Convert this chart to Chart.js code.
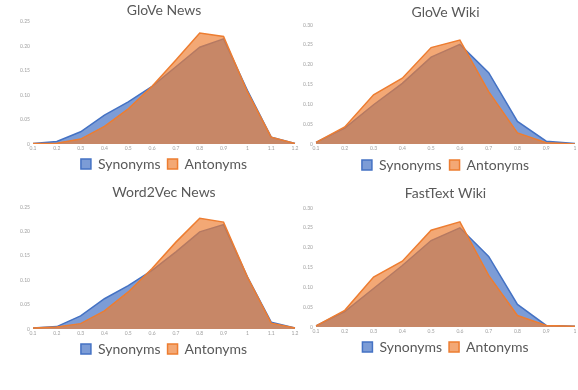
<!DOCTYPE html>
<html>
<head>
<meta charset="utf-8">
<script src="https://cdn.jsdelivr.net/npm/chart.js@4.4.0/dist/chart.umd.min.js"></script>
<style>
  html, body { margin: 0; padding: 0; background: #fff; overflow: hidden; }
  body { width: 578px; height: 390px; position: relative; }
  .box { position: absolute; }
</style>
</head>
<body>
<div class="box" id="b1" style="left:14px;top:0px;width:286px;height:181px;"><canvas id="c1"></canvas></div>
<div class="box" id="b2" style="left:297px;top:0px;width:281px;height:182px;"><canvas id="c2"></canvas></div>
<div class="box" id="b3" style="left:14px;top:180px;width:286px;height:186px;"><canvas id="c3"></canvas></div>
<div class="box" id="b4" style="left:297px;top:180px;width:281px;height:184px;"><canvas id="c4"></canvas></div>
<script>
// x categories (tick labels are tiny in the source, best guess)
const newsLabels = ['0.1', '0.2', '0.3', '0.4', '0.5', '0.6', '0.7', '0.8', '0.9', '1', '1.1', '1.2'];
const wikiLabels = ['0.1', '0.2', '0.3', '0.4', '0.5', '0.6', '0.7', '0.8', '0.9', '1'];

// GloVe News
const gloveNewsSyn = [0.001, 0.005, 0.025, 0.059, 0.086, 0.118, 0.158, 0.198, 0.215, 0.110, 0.014, 0.001];
const gloveNewsAnt = [0.001, 0.0015, 0.010, 0.036, 0.072, 0.118, 0.172, 0.227, 0.220, 0.107, 0.014, 0.001];

// GloVe Wiki
const gloveWikiSyn = [0.004, 0.040, 0.099, 0.153, 0.219, 0.251, 0.180, 0.057, 0.007, 0.001];
const gloveWikiAnt = [0.004, 0.043, 0.124, 0.166, 0.243, 0.262, 0.132, 0.028, 0.003, 0.000];

// Word2Vec News
const w2vNewsSyn = [0.002, 0.005, 0.027, 0.062, 0.089, 0.120, 0.158, 0.199, 0.214, 0.107, 0.014, 0.002];
const w2vNewsAnt = [0.002, 0.004, 0.011, 0.037, 0.076, 0.124, 0.178, 0.227, 0.219, 0.107, 0.012, 0.002];

// FastText Wiki
const ftWikiSyn = [0.003, 0.039, 0.097, 0.155, 0.218, 0.250, 0.178, 0.057, 0.004, 0.002];
const ftWikiAnt = [0.003, 0.042, 0.126, 0.166, 0.244, 0.265, 0.130, 0.029, 0.004, 0.002];

const blueLine = '#4472C4';
const blueFill = 'rgba(68, 114, 196, 0.7)';
const orangeLine = '#ED7D31';
const orangeFill = 'rgba(237, 125, 49, 0.67)';

// center title + legend over the plot area (like Excel does), not over the whole canvas
const centerOnPlot = {
  id: 'centerOnPlot',
  afterLayout(chart) {
    const area = chart.chartArea;
    [chart.legend, chart.titleBlock].forEach((b) => {
      if (!b) return;
      b.left = area.left;
      b.right = area.right;
      b.width = area.right - area.left;
    });
    if (chart.legend && chart.legend.adjustHitBoxes) chart.legend.adjustHitBoxes();
  }
};

function makeChart(id, title, labels, syn, ant, yMax, titlePad, legendPad, rightPad) {
  const ctx = document.getElementById(id).getContext('2d');
  return new Chart(ctx, {
    type: 'line',
    data: {
      labels: labels,
      datasets: [
        {
          label: 'Synonyms',
          data: syn,
          borderColor: blueLine,
          backgroundColor: blueFill,
          borderWidth: 1.5,
          fill: 'origin',
          pointRadius: 0,
          tension: 0,
          order: 2
        },
        {
          label: 'Antonyms',
          data: ant,
          borderColor: orangeLine,
          backgroundColor: orangeFill,
          borderWidth: 1.5,
          fill: 'origin',
          pointRadius: 0,
          tension: 0,
          order: 1
        }
      ]
    },
    plugins: [centerOnPlot],
    options: {
      responsive: true,
      maintainAspectRatio: false,
      animation: false,
      layout: { padding: { left: 0, right: rightPad, top: 0, bottom: 0 } },
      plugins: {
        title: {
          display: true,
          text: title,
          color: '#595959',
          font: { family: 'Lato', size: 14, weight: 'normal' },
          padding: titlePad
        },
        legend: {
          position: 'bottom',
          labels: {
            color: '#595959',
            font: { family: 'Lato', size: 14 },
            boxWidth: 10,
            boxHeight: 10,
            padding: legendPad,
            sort: (a, b) => a.datasetIndex - b.datasetIndex
          }
        },
        tooltip: { enabled: false }
      },
      scales: {
        x: {
          offset: false,
          grid: { display: false, drawTicks: false },
          border: { display: false },
          ticks: {
            color: '#a0a0a0',
            font: { family: 'Lato', size: 5 },
            maxRotation: 0,
            autoSkip: false,
            padding: 1
          },
          afterFit: (scale) => { scale.height = 6; }
        },
        y: {
          min: 0,
          max: yMax,
          grid: { display: false, drawTicks: false },
          border: { display: false },
          ticks: {
            stepSize: 0.05,
            color: '#a0a0a0',
            font: { family: 'Lato', size: 5 },
            padding: 3
          },
          afterFit: (scale) => { scale.width = 19; }
        }
      }
    }
  });
}

makeChart('c1', 'GloVe News', newsLabels, gloveNewsSyn, gloveNewsAnt, 0.25, { top: 2, bottom: 3 }, 7, 5);
makeChart('c2', 'GloVe Wiki', wikiLabels, gloveWikiSyn, gloveWikiAnt, 0.3, { top: 3.6, bottom: 4.6 }, 8, 3);
makeChart('c3', 'Word2Vec News', newsLabels, w2vNewsSyn, w2vNewsAnt, 0.25, { top: 3.6, bottom: 6.6 }, 7, 5);
makeChart('c4', 'FastText Wiki', wikiLabels, ftWikiSyn, ftWikiAnt, 0.3, { top: 4.6, bottom: 6.6 }, 7, 3);
</script>
</body>
</html>
